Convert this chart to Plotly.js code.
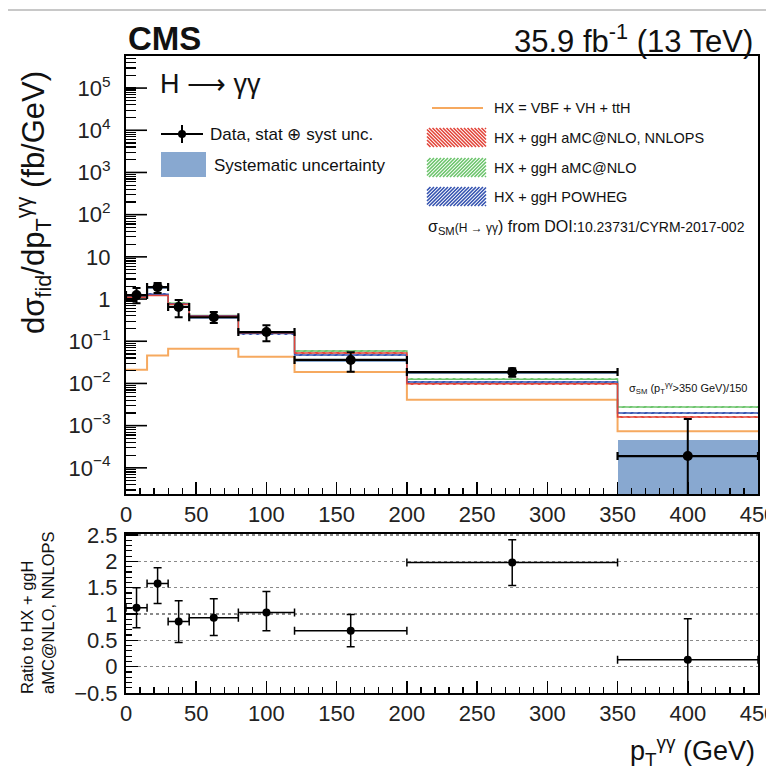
<!DOCTYPE html>
<html><head><meta charset="utf-8">
<script src="https://cdn.plot.ly/plotly-3.0.1.min.js"></script>
<style>html,body{margin:0;padding:0;background:#fff}#chart{width:766px;height:779px}</style>
</head><body><div id="chart"></div>
<script>
// ---------------- data ----------------
const binEdges   = [0, 15, 30, 45, 80, 120, 200, 350, 450];
const binCenters = [7.5, 22.5, 37.5, 62.5, 100, 160, 275, 400];
const dataXsec    = [1.24, 1.92, 0.65, 0.37, 0.165, 0.036, 0.0186, 0.00019];
const dataErrUp   = [0.58, 0.48, 0.30, 0.12, 0.075, 0.019, 0.0042, 0.00125];
const dataErrDown = [0.44, 0.53, 0.28, 0.10, 0.065, 0.017, 0.0042, 0.000189];
const systUp      = [0.10, 0.15, 0.05, 0.03, 0.012, 0.003, 0.0016, 0.00027];
const systDown    = [0.10, 0.15, 0.05, 0.03, 0.012, 0.003, 0.0016, 0.00027];
const hxOnly      = [0.021, 0.046, 0.066, 0.066, 0.043, 0.0186, 0.0041, 0.00074];
const ggHnnlops   = [1.10, 1.22, 0.75, 0.39, 0.158, 0.053, 0.0098, 0.0016];
const ggHamcnlo   = [1.15, 1.27, 0.79, 0.41, 0.166, 0.059, 0.0126, 0.00276];
const ggHpowheg   = [1.18, 1.30, 0.77, 0.40, 0.152, 0.047, 0.0108, 0.0020];
const predRelUnc  = [0.05, 0.05, 0.05, 0.05, 0.05, 0.05, 0.05, 0.05];
const ratioVals     = [1.12, 1.58, 0.86, 0.93, 1.03, 0.68, 1.98, 0.13];
const ratioErrUp    = [0.38, 0.30, 0.39, 0.36, 0.40, 0.31, 0.43, 0.78];
const ratioErrDown  = [0.38, 0.38, 0.40, 0.34, 0.35, 0.30, 0.44, 0.70];
const xTicks = [0, 50, 100, 150, 200, 250, 300, 350, 400, 450];
const yMainTicks = [1e-4, 1e-3, 1e-2, 1e-1, 1, 10, 1e2, 1e3, 1e4, 1e5];
const yMainTickText = ['10<sup>\u22124</sup>', '10<sup>\u22123</sup>', '10<sup>\u22122</sup>', '10<sup>\u22121</sup>', '1', '10', '10<sup>2</sup>', '10<sup>3</sup>', '10<sup>4</sup>', '10<sup>5</sup>'];
const yRatioTicks = [-0.5, 0, 0.5, 1, 1.5, 2, 2.5];
const yRatioTickText = ['\u22120.5', '0', '0.5', '1', '1.5', '2', '2.5'];

// ---------------- helpers ----------------
const FONT = 'Liberation Sans, Arial, Helvetica, sans-serif';
const L = 126, R = 758, T = 56, B = 693;
const px = x => (x - L) / (R - L);
const py = y => (B - y) / (B - T);
const widths = binEdges.slice(1).map((e, i) => e - binEdges[i]);
const halfW = widths.map(w => w / 2);
const stepY = v => v.concat([v[v.length - 1]]);
const Y_RANGE = [-4.62, 5.76];
const mainDomLo = (B - 494) / (B - T);
const ratioDomHi = (B - 534) / (B - T);

const RED = '#e2453a', GREEN = '#6cc46c', BLUE = '#3553b0', ORANGE = '#f6a95f', SYST = '#88a8d0';

const traces = [];
// systematic boxes
traces.push({
  type: 'bar', x: binCenters, width: widths,
  base: dataXsec.map((v, i) => (v - systDown[i] > 0 ? v - systDown[i] : 1e-7)),
  y: dataXsec.map((v, i) => (v + systUp[i]) - (v - systDown[i] > 0 ? v - systDown[i] : 1e-7)),
  marker: {color: SYST, line: {width: 0}}, xaxis: 'x', yaxis: 'y', showlegend: false, hoverinfo: 'skip'
});
// HX only
traces.push({type: 'scatter', mode: 'lines', x: binEdges, y: stepY(hxOnly), line: {shape: 'hv', color: ORANGE, width: 2},
  xaxis: 'x', yaxis: 'y', showlegend: false, hoverinfo: 'skip'});
// predictions: hatched bands + lines
const preds = [[ggHamcnlo, GREEN, '/'], [ggHpowheg, BLUE, '/'], [ggHnnlops, RED, '\\']];
preds.forEach(([vals, col, shp]) => {
  traces.push({
    type: 'bar', x: binCenters, width: widths,
    base: vals.map((v, i) => v * (1 - predRelUnc[i])),
    y: vals.map((v, i) => v * 2 * predRelUnc[i]),
    marker: {color: 'rgba(0,0,0,0)', line: {width: 0}, pattern: {shape: shp, fgcolor: col, bgcolor: 'rgba(0,0,0,0)', size: 5, solidity: 0.4}},
    xaxis: 'x', yaxis: 'y', showlegend: false, hoverinfo: 'skip'
  });
  traces.push({type: 'scatter', mode: 'lines', x: binEdges, y: stepY(vals), line: {shape: 'hv', color: col, width: 1.5},
    xaxis: 'x', yaxis: 'y', showlegend: false, hoverinfo: 'skip'});
});
// data
traces.push({
  type: 'scatter', mode: 'markers', x: binCenters, y: dataXsec,
  marker: {color: 'black', size: 10},
  error_y: {type: 'data', symmetric: false, array: dataErrUp, arrayminus: dataErrDown, color: 'black', thickness: 2, width: 4},
  error_x: {type: 'data', array: halfW, color: 'black', thickness: 2.2, width: 4},
  xaxis: 'x', yaxis: 'y', showlegend: false, hoverinfo: 'skip'
});
// ratio
traces.push({
  type: 'scatter', mode: 'markers', x: binCenters, y: ratioVals,
  marker: {color: 'black', size: 8},
  error_y: {type: 'data', symmetric: false, array: ratioErrUp, arrayminus: ratioErrDown, color: 'black', thickness: 1.5, width: 4},
  error_x: {type: 'data', array: halfW, color: 'black', thickness: 1.5, width: 4},
  xaxis: 'x2', yaxis: 'y2', showlegend: false, hoverinfo: 'skip'
});

// all log ticks (major + minor); majors get labels
const logTickVals = [], logTickText = [];
for (let d = -5; d <= 5; d++) for (let k = 1; k <= 9; k++) {
  const v = k * Math.pow(10, d);
  logTickVals.push(v);
  logTickText.push(k === 1 ? (yMainTickText[yMainTicks.findIndex(t => Math.abs(Math.log10(t) - d) < 1e-9)] || '') : '');
}

const xCommon = {
  range: [0, 450], tickvals: xTicks, ticks: 'inside', ticklen: 12, tickwidth: 1.5, tickcolor: 'black',
  minor: {dtick: 10, ticks: 'inside', ticklen: 6, tickwidth: 1.2, tickcolor: 'black', showgrid: false},
  showline: true, linecolor: 'black', linewidth: 2, mirror: true, showgrid: false, zeroline: false,
  ticklabeloverflow: 'allow',
  tickfont: {family: FONT, size: 22, color: '#222'}, domain: [0, 1]
};

// legend hatch paths
function hatch(x0, y0, x1, y1, step, dir) {
  const h = y1 - y0; let p = '';
  for (let t = x0 - h; t <= x1; t += step) {
    const s0 = Math.max(0, x0 - t), s1 = Math.min(h, x1 - t);
    if (s1 <= s0) continue;
    let a, b;
    if (dir === '/') { a = [t + s0, y1 - s0]; b = [t + s1, y1 - s1]; }
    else { a = [t + s0, y0 + s0]; b = [t + s1, y0 + s1]; }
    p += `M${px(a[0]).toFixed(5)},${py(a[1]).toFixed(5)}L${px(b[0]).toFixed(5)},${py(b[1]).toFixed(5)}`;
  }
  return p;
}
const shp = (path, col) => ({type: 'path', xref: 'paper', yref: 'paper', path: path, line: {color: col, width: 1.6}});
const line = (x0, y0, x1, y1, col, w) => ({type: 'line', xref: 'paper', yref: 'paper', x0: px(x0), y0: py(y0), x1: px(x1), y1: py(y1), line: {color: col, width: w}});

const shapes = [
  line(8, 10, 766, 10, '#c8c8c8', 2),
  // data legend
  line(161, 134, 203, 134, 'black', 2),
  line(182, 125, 182, 143, 'black', 2),
  {type: 'circle', xref: 'paper', yref: 'paper', x0: px(178), x1: px(186), y0: py(138), y1: py(130), fillcolor: 'black', line: {width: 0}},
  {type: 'rect', xref: 'paper', yref: 'paper', x0: px(161), x1: px(206), y0: py(177), y1: py(152), fillcolor: SYST, line: {width: 0}},
  // right legend
  line(432, 108, 483, 108, ORANGE, 2),
  shp(hatch(427, 128, 486, 147, 3.5, '\\'), RED),
  shp(hatch(427, 158, 486, 177, 3.5, '/'), GREEN),
  shp(hatch(427, 187, 486, 206, 3.5, '/'), BLUE)
];
// longer major ticks on the log axis (axis decoration)
yMainTicks.forEach(v => {
  const f = (Math.log10(v) - Y_RANGE[0]) / (Y_RANGE[1] - Y_RANGE[0]);
  const yy = mainDomLo + f * (1 - mainDomLo);
  shapes.push({type: 'line', xref: 'paper', yref: 'paper', x0: 0, x1: 21 / (R - L), y0: yy, y1: yy, line: {color: 'black', width: 1.6}});
});

const ann = (x, y, text, size, opts) => Object.assign({xref: 'paper', yref: 'paper', x: px(x), y: py(y), text: text, showarrow: false,
  xanchor: 'left', yanchor: 'middle', font: {family: FONT, size: size, color: '#111'}}, opts || {});

const annotations = [
  ann(126, 39, '<b>CMS</b>', 33),
  ann(755, 39, '35.9 fb<sup>-1</sup> (13 TeV)', 31, {xanchor: 'right'}),
  ann(158, 84, 'H \u27f6 \u03b3\u03b3', 27),
  ann(208, 134, 'Data, stat \u2295 syst unc.', 17),
  ann(212, 165, 'Systematic uncertainty', 17),
  ann(492, 108, 'HX = VBF + VH + ttH', 14.5),
  ann(492, 138, 'HX + ggH aMC@NLO, NNLOPS', 14.5),
  ann(492, 168, 'HX + ggH aMC@NLO', 14.5),
  ann(492, 197, 'HX + ggH POWHEG', 14.5),
  ann(426, 227, '\u03c3<sub>SM</sub><span style="font-size:12px">(H \u2192 \u03b3\u03b3</span>) from DOI:<span style="font-size:14px">10.23731/CYRM-2017-002</span>', 16),
  ann(627, 388, '\u03c3<sub>SM</sub> (p<sub>T</sub><sup>\u03b3\u03b3</sup>&gt;350 GeV)/150', 11),
  ann(34, 203, 'd\u03c3<sub>fid</sub>/dp<sub>T</sub><sup>\u03b3\u03b3</sup> (fb/GeV)', 31, {xanchor: 'center', textangle: -90}),
  ann(37, 613, 'Ratio to HX + ggH<br>aMC@NLO, NNLOPS', 16.5, {xanchor: 'center', textangle: -90, align: 'left'}),
  ann(757, 751, 'p<sub>T</sub><sup>\u03b3\u03b3</sup> (GeV)', 27, {xanchor: 'right'})
];

const layout = {
  width: 766, height: 779, paper_bgcolor: 'white', plot_bgcolor: 'white',
  margin: {l: L, r: 766 - R, t: T, b: 779 - B},
  showlegend: false, barmode: 'overlay', bargap: 0,
  xaxis: Object.assign({}, xCommon, {anchor: 'y'}),
  xaxis2: Object.assign({}, xCommon, {anchor: 'y2'}),
  yaxis: {
    domain: [mainDomLo, 1], anchor: 'x', type: 'log', range: Y_RANGE,
    tickmode: 'array', tickvals: logTickVals, ticktext: logTickText, ticks: 'inside', ticklen: 10, tickwidth: 1.2, tickcolor: 'black',
    showline: true, linecolor: 'black', linewidth: 2, mirror: true, showgrid: false, zeroline: false,
    ticklabelstandoff: 9,
    tickfont: {family: FONT, size: 22, color: '#222'}
  },
  yaxis2: {
    domain: [0, ratioDomHi], anchor: 'x2', range: [-0.5, 2.52],
    tickvals: yRatioTicks, ticktext: yRatioTickText, ticks: 'inside', ticklen: 12, tickwidth: 1.5, tickcolor: 'black',
    minor: {dtick: 0.1, ticks: 'inside', ticklen: 6, tickwidth: 1.2, tickcolor: 'black', showgrid: false},
    showline: true, linecolor: 'black', linewidth: 2, mirror: true,
    showgrid: true, gridcolor: '#8a8a8a', griddash: 'dot', gridwidth: 1.3, zeroline: false,
    ticklabelstandoff: 2,
    tickfont: {family: FONT, size: 22, color: '#222'}
  },
  shapes: shapes, annotations: annotations
};

Plotly.newPlot('chart', traces, layout, {staticPlot: true, displayModeBar: false});
</script>
</body></html>
